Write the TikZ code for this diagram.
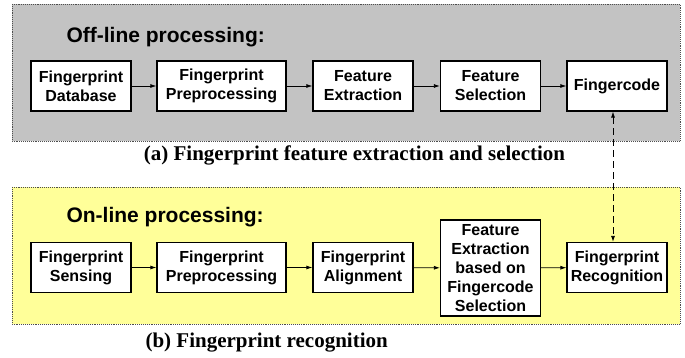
\documentclass[tikz,border=0pt]{standalone}
\usepackage{fontspec}
\setmainfont{Liberation Serif}
\setsansfont{Liberation Sans}
\usetikzlibrary{arrows.meta, positioning}

\definecolor{offgray}{RGB}{195,195,195}
\definecolor{onyellow}{RGB}{255,255,153}

\tikzset{
    stagebox/.style={draw, line width=1.2pt, fill=white, align=center,
        minimum width=100pt, minimum height=50pt, inner sep=2pt,
        font=\sffamily\bfseries\fontsize{16}{19}\selectfont},
    flow/.style={-{Latex[length=6pt,width=4pt]}, line width=0.8pt},
    panel/.style={draw=black!70, densely dotted, line width=0.9pt},
    paneltitle/.style={anchor=west, font=\sffamily\bfseries\fontsize{21}{24}\selectfont},
    caption/.style={font=\rmfamily\bfseries\fontsize{21}{24}\selectfont}
}

\begin{document}
\begin{tikzpicture}[x=1pt, y=-1pt]
    \useasboundingbox (0,0) rectangle (685,358);

    % Off-line panel
    \draw[panel, fill=offgray] (12,4) rectangle (680,141);
    \node[paneltitle] (offtitle) at (63,37) {Off-line processing:};

    \node[stagebox] (db)    at (81,86)    {Fingerprint\\Database};
    \node[stagebox, minimum width=129pt] (prep1) at (221.5,86) {Fingerprint\\Preprocessing};
    \node[stagebox] (extr)  at (363,86)   {Feature\\Extraction};
    \node[stagebox] (sel)   at (490.5,86) {Feature\\Selection};
    \node[stagebox] (code)  at (617,86)   {Fingercode};

    \draw[flow] (db) -- (prep1);
    \draw[flow] (prep1) -- (extr);
    \draw[flow] (extr) -- (sel);
    \draw[flow] (sel) -- (code);

    \node[caption] (capa) at (354.5,155) {(a) Fingerprint feature extraction and selection};

    % On-line panel
    \draw[panel, fill=onyellow] (12,187) rectangle (680,324);
    \node[paneltitle] (ontitle) at (63,217) {On-line processing:};

    \node[stagebox] (sens)  at (81,267.5)    {Fingerprint\\Sensing};
    \node[stagebox, minimum width=129pt] (prep2) at (221.5,267.5) {Fingerprint\\Preprocessing};
    \node[stagebox] (align) at (363,267.5)   {Fingerprint\\Alignment};
    \node[stagebox, minimum height=96pt] (fextr) at (490.5,268) {Feature\\Extraction\\based on\\Fingercode\\Selection};
    \node[stagebox] (recog) at (617,267.5)   {Fingerprint\\Recognition};

    \draw[flow] (sens) -- (prep2);
    \draw[flow] (prep2) -- (align);
    \draw[flow] (align) -- (fextr);
    \draw[flow] (fextr) -- (recog);

    % link between the two stages
    \draw[{Latex[length=6pt,width=4pt]}-{Latex[length=6pt,width=4pt]}, line width=0.8pt,
        dash pattern=on 7pt off 4pt] ([xshift=-4pt]code.south) -- ([xshift=-4pt]recog.north);

    \node[caption, anchor=west] (capb) at (142,343) {(b) Fingerprint recognition};
\end{tikzpicture}
\end{document}
